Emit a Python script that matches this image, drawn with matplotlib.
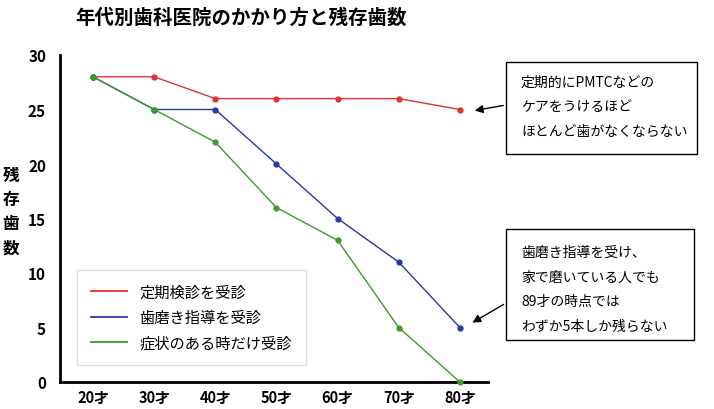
import numpy as np
import matplotlib
matplotlib.use('Agg')
import matplotlib.pyplot as plt
from matplotlib.patches import Rectangle
from matplotlib.lines import Line2D

plt.rcParams['font.family'] = ['Noto Sans CJK JP', 'DejaVu Sans']

ages = ['20才', '30才', '40才', '50才', '60才', '70才', '80才']
regular = [28, 28, 26, 26, 26, 26, 25]
brushing = [28, 25, 25, 20, 15, 11, 5]
symptom = [28, 25, 22, 16, 13, 5, 0]
yticks = [0, 5, 10, 15, 20, 25, 30]
series_names = ['定期検診を受診', '歯磨き指導を受診', '症状のある時だけ受診']
colors = ['#e03232', '#2b37a6', '#3d9a2b']

W, H = 714, 410
fig = plt.figure(figsize=(W / 100, H / 100), dpi=100)


def fx(px):
    return px / W


def fy(py):
    return 1 - py / H


ax = fig.add_axes([fx(60), fy(383), fx(488) - fx(60), fy(56) - fy(383)])
x = np.arange(len(ages))
for vals, c, name in zip([regular, brushing, symptom], colors, series_names):
    ax.plot(x, vals, color=c, lw=1, marker='o', ms=3.5, label=name, clip_on=False, zorder=3)

ax.set_xlim(-0.54, 6.46)
ax.set_ylim(0, 30)
ax.set_xticks(x)
ax.set_xticklabels(ages, fontsize=10.5, fontweight='bold')
ax.set_yticks(yticks)
ax.set_yticklabels([str(v) for v in yticks], fontsize=11, fontweight='bold')
ax.tick_params(axis='x', length=0, pad=5)
ax.tick_params(axis='y', length=0, pad=10)
for s in ['top', 'right']:
    ax.spines[s].set_visible(False)
ax.spines['left'].set_linewidth(2)
ax.spines['bottom'].set_linewidth(2)

handles = [Line2D([], [], color=c, lw=1.3) for c in colors]
leg = ax.legend(handles, series_names, loc='lower left',
                bbox_to_anchor=(fx(77 - 60) / (fx(488) - fx(60)), (fy(366) - fy(383)) / (fy(56) - fy(383))),
                fontsize=11, frameon=True, fancybox=False, handlelength=2.4, handletextpad=0.8,
                borderpad=0.9, labelspacing=0.55, borderaxespad=0)
leg.get_frame().set_edgecolor('#d8d8d8')
leg.get_frame().set_linewidth(1)

fig.text(fx(11), fy(212), '残\n存\n歯\n数', ha='center', va='center', fontsize=12,
         fontweight='bold', linespacing=1.45)
fig.text(fx(75), fy(18), '年代別歯科医院のかかり方と残存歯数', ha='left', va='center',
         fontsize=14, fontweight='bold')

# note boxes
notes = [
    ((506, 63, 697, 155), ['定期的にPMTCなどの', 'ケアをうけるほど', 'ほとんど歯がなくならない'], 83, (506, 106), (472, 112)),
    ((506, 230, 694, 341), ['歯磨き指導を受け、', '家で磨いている人でも', '89才の時点では', 'わずか5本しか残らない'], 253, (506, 304), (470, 325)),
]
for (x0, y0, x1, y1), lines, ty, start, end in notes:
    fig.add_artist(Rectangle((fx(x0), fy(y1)), fx(x1) - fx(x0), fy(y0) - fy(y1),
                             transform=fig.transFigure, fill=False, edgecolor='black', lw=1))
    for i, t in enumerate(lines):
        fig.text(fx(521), fy(ty + i * 24.5), t, ha='left', va='center', fontsize=10)
    ax.annotate('', xy=(fx(end[0]), fy(end[1])), xycoords='figure fraction',
                xytext=(fx(start[0]), fy(start[1])), textcoords='figure fraction',
                arrowprops=dict(arrowstyle='-|>', color='black', lw=1, mutation_scale=12))

fig.savefig('out.png', dpi=100)
